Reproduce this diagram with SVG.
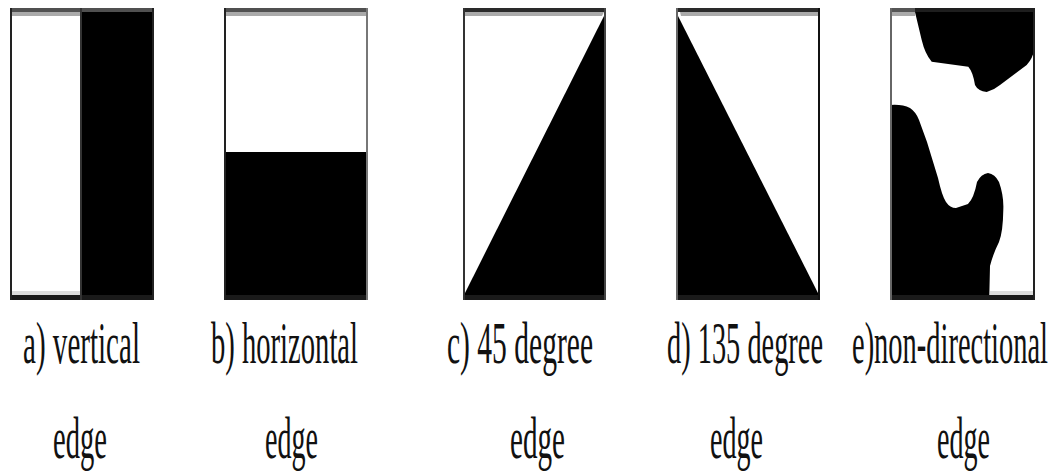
<svg xmlns="http://www.w3.org/2000/svg" width="1061" height="472" viewBox="0 0 1061 472">
<style>
.bg{fill:#fff}
.blk{fill:#000}
.top{fill:#505050}
.lite{fill:#aaa}
.bot{fill:#1a1a1a}
.side{fill:#222}
.lbl{font-family:"Liberation Serif","Times New Roman",serif;font-size:29.5px;fill:#111}
</style>
<rect width="1061" height="472" fill="#fff"/>
<g id="panel-a">
<rect class="bg" x="10" y="8" width="144" height="292"/>
<rect class="blk" x="81" y="8" width="73" height="292"/>
<rect class="lite" x="12" y="12" width="69" height="4"/>
<rect x="12" y="291" width="69" height="4" fill="#ddd"/>
<rect class="top" x="10" y="8" width="144" height="4"/>
<rect class="bot" x="10" y="295" width="144" height="5"/>
<rect class="side" x="10" y="8" width="2" height="292"/>
<rect class="side" x="152" y="8" width="2" height="292"/>
<rect x="80" y="8" width="2" height="292" fill="#333"/>
<text class="lbl" transform="scale(1,2)" x="23" y="181.5" textLength="117" lengthAdjust="spacingAndGlyphs">a) vertical</text>
<text class="lbl" transform="scale(1,2)" x="53" y="229" textLength="54" lengthAdjust="spacingAndGlyphs">edge</text>
</g>
<g id="panel-b">
<rect class="bg" x="224" y="8" width="144" height="292"/>
<rect class="blk" x="224" y="152" width="144" height="148"/>
<rect class="lite" x="226" y="12" width="140" height="4"/>
<rect class="top" x="224" y="8" width="144" height="4"/>
<rect class="bot" x="224" y="295" width="144" height="5"/>
<rect class="side" x="224" y="8" width="2" height="292"/>
<rect x="366" y="8" width="2" height="292" fill="#777"/>
<text class="lbl" transform="scale(1,2)" x="211" y="181.5" textLength="147" lengthAdjust="spacingAndGlyphs">b) horizontal</text>
<text class="lbl" transform="scale(1,2)" x="265" y="229" textLength="53" lengthAdjust="spacingAndGlyphs">edge</text>
</g>
<g id="panel-c">
<rect class="bg" x="463" y="8" width="143" height="292"/>
<polygon class="blk" points="463,297 606,12 606,300 463,300"/>
<polygon class="lite" points="465,12 604,12 602,16 465,16"/>
<rect x="463" y="8" width="143" height="4" fill="#2a2a2a"/>
<rect class="bot" x="463" y="295" width="143" height="5"/>
<rect x="463" y="8" width="2" height="292" fill="#333"/>
<rect x="604" y="8" width="2" height="292" fill="#444"/>
<text class="lbl" transform="scale(1,2)" x="447" y="181.5" textLength="146" lengthAdjust="spacingAndGlyphs">c) 45 degree</text>
<text class="lbl" transform="scale(1,2)" x="510" y="229" textLength="55" lengthAdjust="spacingAndGlyphs">edge</text>
</g>
<g id="panel-d">
<rect class="bg" x="676" y="8" width="144" height="292"/>
<polygon class="blk" points="676,12 820,297 820,300 676,300"/>
<polygon class="lite" points="680,12 818,12 818,16 681,16"/>
<rect x="676" y="8" width="144" height="4" fill="#2a2a2a"/>
<rect class="bot" x="676" y="295" width="144" height="5"/>
<rect x="676" y="8" width="2" height="292" fill="#666"/>
<rect x="818" y="8" width="2" height="292" fill="#111"/>
<text class="lbl" transform="scale(1,2)" x="667" y="181.5" textLength="156" lengthAdjust="spacingAndGlyphs">d) 135 degree</text>
<text class="lbl" transform="scale(1,2)" x="710" y="229" textLength="53" lengthAdjust="spacingAndGlyphs">edge</text>
</g>
<g id="panel-e">
<rect class="bg" x="890" y="8" width="145" height="292"/>
<path class="blk" d="M915,12 L921.7,40 Q925,54 931.7,61.7 L968.3,66.7 Q973,72 975,85 Q978,91 986.7,92 Q994,90 1000,85 L1026.7,65 Q1033,58 1034,50 L1034,12 Z"/>
<path class="blk" d="M890,105 Q902,104 910,108 Q916,112 919,120 L927,142 L938,178 Q942,196 946,202 Q950,208 956,208 L968,204 Q974,198 977,182 Q981,174 988,173 Q995,174 999,182 Q1004,196 1003.3,210 Q1003,232 999,242 Q993,254 990,266 L989.3,296 L890,296 Z"/>
<rect class="lite" x="892" y="12" width="23" height="4"/>
<rect x="990" y="291" width="43" height="4" fill="#ddd"/>
<rect x="890" y="8" width="145" height="4" fill="#1e1e1e"/>
<rect x="890" y="8" width="25" height="4" fill="#555"/>
<rect class="bot" x="890" y="295" width="145" height="5"/>
<rect x="890" y="8" width="2" height="292" fill="#666"/>
<rect x="1033" y="8" width="2" height="292" fill="#222"/>
<text class="lbl" transform="scale(1,2)" x="852" y="181.5" textLength="196" lengthAdjust="spacingAndGlyphs">e)non-directional</text>
<text class="lbl" transform="scale(1,2)" x="937" y="229" textLength="53" lengthAdjust="spacingAndGlyphs">edge</text>
</g>
<g id="connectors"/>
</svg>
